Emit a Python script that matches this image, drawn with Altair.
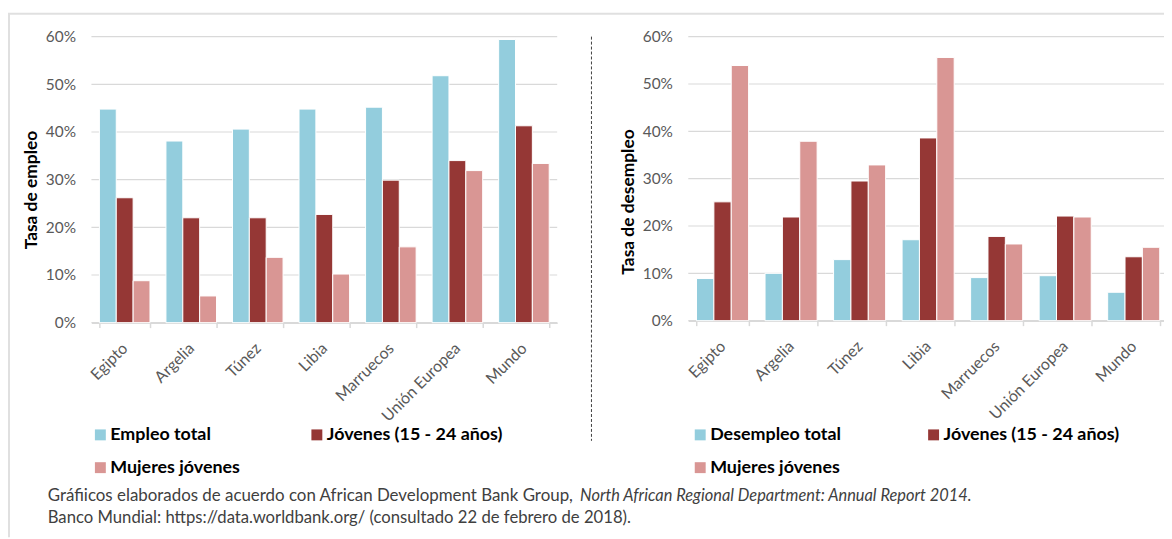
import altair as alt
import pandas as pd

categories = ["Egipto", "Argelia", "Túnez", "Libia", "Marruecos", "Unión Europea", "Mundo"]
series_empleo = ["Empleo total", "Jóvenes (15 - 24 años)", "Mujeres jóvenes"]
series_desempleo = ["Desempleo total", "Jóvenes (15 - 24 años)", "Mujeres jóvenes"]
colors = ["#93CDDD", "#953735", "#D99694"]

empleo_total = [44.8, 38.1, 40.6, 44.8, 45.2, 51.8, 59.4]
empleo_jovenes = [26.2, 22.0, 22.0, 22.7, 29.9, 34.0, 41.3]
empleo_mujeres = [8.8, 5.6, 13.7, 10.2, 15.9, 31.9, 33.4]

desempleo_total = [8.9, 10.0, 12.9, 17.1, 9.1, 9.5, 6.0]
desempleo_jovenes = [25.1, 21.9, 29.5, 38.6, 17.8, 22.1, 13.5]
desempleo_mujeres = [53.9, 37.9, 32.9, 55.6, 16.2, 21.9, 15.5]

y_ticks = [0, 10, 20, 30, 40, 50, 60]

footer_1a = "Gráfiicos elaborados de acuerdo con African Development Bank Group, "
footer_1b = "North African Regional Department: Annual Report 2014."
footer_2 = "Banco Mundial: https://data.worldbank.org/ (consultado 22 de febrero de 2018)."

FONT = "Lato"
TXT = "#595959"
GRID = "#D9D9D9"


def long_df(series, values):
    rows = []
    for s, vals in zip(series, values):
        for c, v in zip(categories, vals):
            rows.append({"cat": c, "serie": s, "val": v})
    return pd.DataFrame(rows)


def panel(df, series, ytitle, xrange, yrange, y_off, x_off, title_y, legend_x, col_pad):
    y_scale = alt.Scale(domain=[0, 60], range=yrange)
    y_axis = alt.Axis(orient="left", offset=y_off, values=y_ticks,
                      labelExpr="datum.value + '%'", title=ytitle, grid=False,
                      domain=False, ticks=False, tickSize=0, labelPadding=16,
                      labelFontSize=15.5, labelColor=TXT, labelFont=FONT,
                      titleFont=FONT, titleFontSize=17.5, titleFontWeight="bold",
                      titleColor="black", titleAngle=270, titleX=-60, titleY=title_y,
                      titleAlign="center", titleBaseline="middle")
    bars = alt.Chart(df).mark_bar(stroke="white", strokeWidth=1).encode(
        x=alt.X("cat:N", sort=categories,
                scale=alt.Scale(range=xrange, paddingInner=0.24, paddingOuter=0.12),
                axis=alt.Axis(orient="bottom", offset=x_off, title=None, labelAngle=-45,
                              labelAlign="right", labelBaseline="middle", labelFontSize=16,
                              labelColor=TXT, labelFont=FONT, domainColor=GRID, domainWidth=1.5,
                              tickColor=GRID, tickWidth=1.5, tickSize=5, tickBand="extent",
                              labelPadding=18, grid=False)),
        xOffset=alt.XOffset("serie:N", sort=series, scale=alt.Scale(paddingInner=0, paddingOuter=0)),
        y=alt.Y("val:Q", scale=y_scale, axis=y_axis),
        color=alt.Color("serie:N", sort=series,
                        scale=alt.Scale(domain=series, range=colors),
                        legend=alt.Legend(orient="none", legendX=legend_x, legendY=392,
                                          direction="horizontal",
                                          columns=2, columnPadding=col_pad, rowPadding=15,
                                          title=None, symbolType="square", symbolSize=121,
                                          symbolStrokeWidth=0, labelFontSize=18,
                                          labelFontWeight="bold", labelColor="black",
                                          labelFont=FONT, labelOffset=1, padding=0,
                                          labelLimit=400)),
    )
    grid = alt.Chart(pd.DataFrame({"val": y_ticks})).mark_rule(color=GRID, strokeWidth=1.2).encode(
        y=alt.Y("val:Q", scale=y_scale, axis=y_axis),
        x=alt.value(xrange[0]), x2=alt.value(xrange[1]),
    )
    return alt.layer(grid, bars)


one = pd.DataFrame({"k": [0]})

left = panel(long_df(series_empleo, [empleo_total, empleo_jovenes, empleo_mujeres]),
             series_empleo, "Tasa de empleo", [0, 469], [288, 0], 0, 0, 154, 0, 68)
right = panel(long_df(series_desempleo, [desempleo_total, desempleo_jovenes, desempleo_mujeres]),
              series_desempleo, "Tasa de desempleo", [601, 1084], [286, 0], -601, -2, 166, 604, 84)

divider = alt.Chart(one).mark_rule(strokeDash=[3, 2], color="#404040", strokeWidth=1).encode(
    x=alt.value(503.5), y=alt.value(0), y2=alt.value(407))
border_top = alt.Chart(one).mark_rule(color="#E0E0E0", strokeWidth=2).encode(
    x=alt.value(-84), x2=alt.value(1080), y=alt.value(-23))
border_left = alt.Chart(one).mark_rule(color="#E0E0E0", strokeWidth=2).encode(
    x=alt.value(-83), y=alt.value(-23), y2=alt.value(504))

f1a = alt.Chart(pd.DataFrame({"t": [footer_1a]})).mark_text(
    align="left", baseline="middle", font=FONT, fontSize=17, color="#404040").encode(
    text="t:N", x=alt.value(-44), y=alt.value(463))
f1b = alt.Chart(pd.DataFrame({"t": [footer_1b]})).mark_text(
    align="left", baseline="middle", font=FONT, fontSize=16.5, fontStyle="italic", color="#404040").encode(
    text="t:N", x=alt.value(492), y=alt.value(463))
f2 = alt.Chart(pd.DataFrame({"t": [footer_2]})).mark_text(
    align="left", baseline="middle", font=FONT, fontSize=16.8, color="#404040").encode(
    text="t:N", x=alt.value(-44), y=alt.value(485))

left_all = alt.layer(left, divider, border_top, border_left, f1a, f1b, f2)

chart = alt.layer(left_all, right).resolve_scale(
    x="independent", y="independent", color="independent", xOffset="independent"
).properties(
    width=1080, height=288,
    autosize=alt.AutoSizeParams(type="none"),
    padding={"left": 84, "top": 27, "right": 0, "bottom": 216},
).configure_view(stroke=None)

chart.save("out.html", embed_options={"renderer": "svg", "actions": False})
